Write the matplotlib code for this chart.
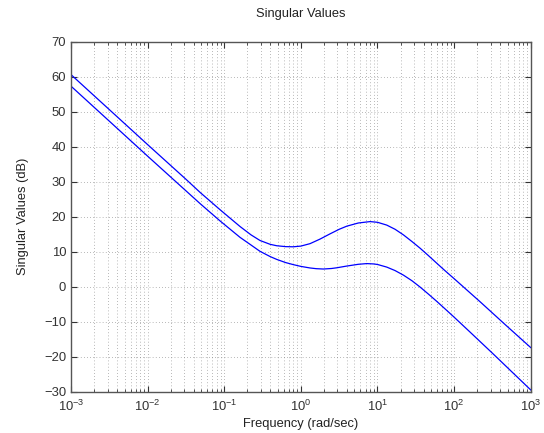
import matplotlib
matplotlib.use("Agg")
import matplotlib.pyplot as plt
from matplotlib.ticker import FixedLocator, LogLocator, MultipleLocator

plt.rcParams['font.family'] = ['Liberation Sans', 'DejaVu Sans']
plt.rcParams['mathtext.fontset'] = 'custom'
plt.rcParams['mathtext.rm'] = 'Liberation Sans'

log_freq_upper = [-3, -2.5, -2, -1.5, -1.313, -1.055, -0.794, -0.65, -0.533, -0.4,
                  -0.315, -0.2, -0.1, 0.0, 0.12, 0.25, 0.381, 0.5, 0.6, 0.75,
                  0.903, 1.0, 1.121, 1.23, 1.339, 1.45, 1.556, 1.664, 1.774,
                  1.88, 2.0, 2.339, 2.67, 3.0]
sv_upper = [60.6, 50.6, 40.6, 30.7, 26.9, 22.0, 17.2, 14.8, 13.2, 12.1,
            11.7, 11.45, 11.4, 11.6, 12.3, 13.6, 15.1, 16.4, 17.3, 18.2,
            18.6, 18.4, 17.6, 16.4, 14.8, 12.9, 11.0, 8.9, 6.7,
            4.6, 2.3, -4.3, -10.9, -17.4]

log_freq_lower = [-3, -2.5, -2, -1.5, -1.313, -1.055, -0.794, -0.65, -0.533, -0.4,
                  -0.315, -0.2, -0.098, 0.0, 0.12, 0.2, 0.294, 0.4, 0.468, 0.6,
                  0.75, 0.86, 0.95, 1.0, 1.121, 1.23, 1.339, 1.45, 1.556, 1.664,
                  1.774, 1.88, 2.0, 2.2, 2.5, 3.0]
sv_lower = [57.3, 47.3, 37.3, 27.4, 23.7, 18.8, 14.1, 11.9, 10.1, 8.6,
            7.8, 6.9, 6.3, 5.8, 5.35, 5.15, 5.05, 5.2, 5.4, 5.9,
            6.4, 6.6, 6.5, 6.35, 5.6, 4.6, 3.3, 1.7, -0.1, -2.1,
            -4.2, -6.3, -8.7, -12.8, -19.0, -29.5]

freq_upper = [10 ** v for v in log_freq_upper]
freq_lower = [10 ** v for v in log_freq_lower]
xticks = [1e-3, 1e-2, 1e-1, 1e0, 1e1, 1e2, 1e3]

fig = plt.figure(figsize=(5.44, 4.33), dpi=100)
ax = fig.add_axes([0.1305, 0.0954, 0.8451, 0.8083])

ax.semilogx(freq_upper, sv_upper, color='#0000ff', lw=0.9)
ax.semilogx(freq_lower, sv_lower, color='#0000ff', lw=0.9)

ax.set_xlim(1e-3, 1e3)
ax.set_ylim(-30, 70)
ax.yaxis.set_major_locator(MultipleLocator(10))
ax.xaxis.set_major_locator(FixedLocator(xticks))
ax.xaxis.set_minor_locator(LogLocator(base=10, subs=range(2, 10), numticks=20))

# matlab-ish dotted grid
ax.grid(True, which='major', linestyle=(0, (1, 3.5)), color='#777777', lw=0.5)
ax.grid(True, which='minor', axis='x', linestyle=(0, (1, 3.5)), color='#777777', lw=0.5)

ax.tick_params(which='both', direction='in', top=True, right=True,
               labelsize=9.4, colors='#333333')
ax.tick_params(which='major', length=4)
ax.tick_params(which='minor', length=2)
ax.tick_params(axis='x', pad=5)
for s in ax.spines.values():
    s.set_color('#555555')
    s.set_linewidth(1.0)

ax.set_title('Singular Values', fontsize=9.3, pad=18, color='#222222')
ax.set_xlabel('Frequency (rad/sec)', fontsize=9.3, color='#222222', labelpad=3)
ax.set_ylabel('Singular Values (dB)', fontsize=9.3, color='#222222', labelpad=11)

fig.savefig('out.png', dpi=100)
